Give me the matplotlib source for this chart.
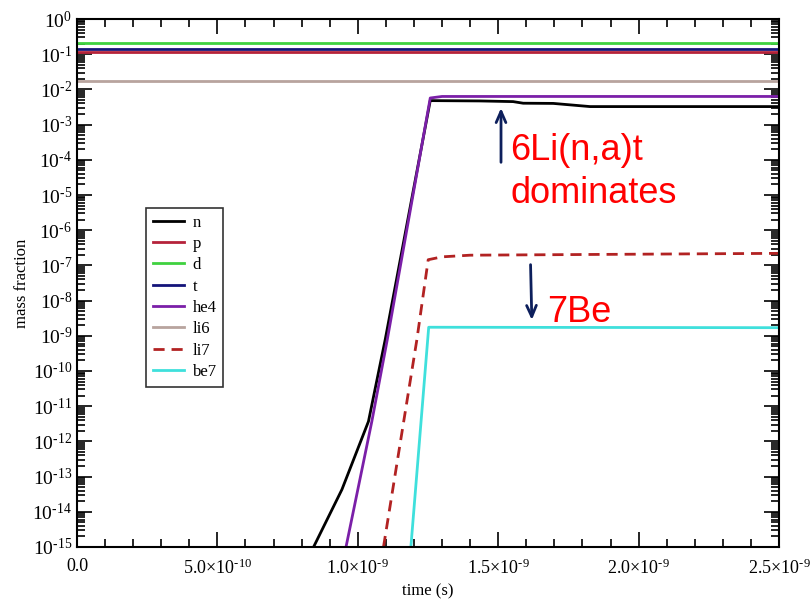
import numpy as np
import matplotlib
matplotlib.use("Agg")
import matplotlib.pyplot as plt
from matplotlib.ticker import MultipleLocator, LogLocator, FixedLocator, NullFormatter

plt.rcParams['font.family'] = ['Liberation Serif', 'DejaVu Serif']
plt.rcParams['mathtext.fontset'] = 'custom'
plt.rcParams['mathtext.rm'] = 'Liberation Serif'
plt.rcParams['mathtext.it'] = 'Liberation Serif:italic'

# flat abundances (whole time range)
t_flat = [0.0, 2.5e-9]
p_frac = [0.113, 0.113]
d_frac = [0.212, 0.212]
t_frac = [0.138, 0.138]
li6_frac = [0.0174, 0.0174]

# neutron
n_time = [0.8425e-9, 0.9435e-9, 1.038e-9, 1.0976e-9, 1.258e-9, 1.435e-9, 1.553e-9,
          1.589e-9, 1.696e-9, 1.827e-9, 2.5e-9]
n_frac = [1e-15, 4.3e-14, 3.7e-12, 7.8e-10, 4.8e-3, 4.7e-3, 4.5e-3,
          4.05e-3, 4.0e-3, 3.25e-3, 3.25e-3]

# he4
he4_time = [0.958e-9, 1.05e-9, 1.105e-9, 1.258e-9, 1.30e-9, 2.5e-9]
he4_frac = [1e-15, 3.7e-12, 7.8e-10, 5.7e-3, 6.3e-3, 6.3e-3]

# li7
li7_time = [1.0915e-9, 1.2104e-9, 1.2507e-9, 1.30e-9, 1.40e-9, 2.5e-9]
li7_frac = [1e-15, 7.8e-10, 1.45e-7, 1.75e-7, 1.95e-7, 2.2e-7]

# be7
be7_time = [1.189e-9, 1.2525e-9, 2.5e-9]
be7_frac = [1e-15, 1.75e-9, 1.7e-9]

xtick_vals = [0.0, 5e-10, 1e-9, 1.5e-9, 2e-9, 2.5e-9]
xtick_labels = ['0.0', r'$5.0{\times}10^{\text{-}10}$', r'$1.0{\times}10^{\text{-}9}$',
                r'$1.5{\times}10^{\text{-}9}$', r'$2.0{\times}10^{\text{-}9}$',
                r'$2.5{\times}10^{\text{-}9}$']
ytick_exps = list(range(0, -16, -1))

fig = plt.figure(figsize=(8.11, 6.06), dpi=100)
ax = fig.add_axes([77 / 811, 1 - 547 / 606, (779 - 77) / 811, (547 - 19) / 606])

lw = 2.0
ax.plot(n_time, n_frac, color='black', lw=lw, label='n')
ax.plot(t_flat, p_frac, color='#b5223a', lw=lw, label='p')
ax.plot(t_flat, d_frac, color='#3fd13f', lw=lw, label='d')
ax.plot(t_flat, t_frac, color='#14147a', lw=lw, label='t')
ax.plot(he4_time, he4_frac, color='#7b1fa8', lw=lw, label='he4')
ax.plot(t_flat, li6_frac, color='#b8a49e', lw=lw, label='li6')
ax.plot(li7_time, li7_frac, color='#b22222', lw=lw, ls=(0, (4, 2.5)), label='li7')
ax.plot(be7_time, be7_frac, color='#3fe0dc', lw=lw, label='be7')

ax.set_yscale('log')
ax.set_xlim(0, 2.5e-9)
ax.set_ylim(1e-15, 1)

ax.xaxis.set_major_locator(FixedLocator(xtick_vals))
ax.set_xticklabels(xtick_labels)
ax.xaxis.set_minor_locator(MultipleLocator(1e-10))
ax.yaxis.set_major_locator(FixedLocator([10.0 ** e for e in ytick_exps]))
ax.set_yticklabels([r'$10^{\text{%s}}$' % ('-%d' % -e if e < 0 else '0') for e in ytick_exps])
ax.yaxis.set_minor_locator(LogLocator(base=10, subs=np.arange(2, 10), numticks=100))
ax.yaxis.set_minor_formatter(NullFormatter())

ax.tick_params(which='both', direction='in', top=True, right=True, width=1.2, labelsize=13)
ax.tick_params(axis='y', labelsize=14)
ax.tick_params(which='major', length=11)
ax.tick_params(which='minor', length=6)
ax.tick_params(axis='x', pad=8)
for s in ax.spines.values():
    s.set_linewidth(1.5)

ax.set_xlabel('time (s)', fontsize=12, labelpad=4)
ax.set_ylabel('mass fraction', fontsize=12, labelpad=2)

leg = ax.legend(loc='upper left', bbox_to_anchor=((146 - 77) / 702, (547 - 208) / 528),
                borderaxespad=0, fontsize=12, frameon=True, fancybox=False, edgecolor='black',
                handlelength=1.9, handletextpad=0.5, labelspacing=0.32, borderpad=0.4)
leg.get_frame().set_linewidth(1.2)

# annotations
ax.annotate('', xy=(1.51e-9, 10 ** -2.45), xytext=(1.51e-9, 10 ** -4.15),
            arrowprops=dict(arrowstyle='->,head_length=0.8,head_width=0.35', color='#0d1f5c', lw=2))
ax.text(1.5425e-9, 10 ** -4.0, '6Li(n,a)t', color='red', fontsize=26,
        family='Liberation Sans', va='baseline', ha='left')
ax.text(1.5425e-9, 10 ** -5.22, 'dominates', color='red', fontsize=26,
        family='Liberation Sans', va='baseline', ha='left')
ax.annotate('', xy=(1.62e-9, 10 ** -8.63), xytext=(1.615e-9, 10 ** -6.9),
            arrowprops=dict(arrowstyle='->,head_length=0.8,head_width=0.35', color='#0d1f5c', lw=2))
ax.text(1.674e-9, 10 ** -8.6, '7Be', color='red', fontsize=26,
        family='Liberation Sans', va='baseline', ha='left')

fig.savefig('out.png', dpi=100)
